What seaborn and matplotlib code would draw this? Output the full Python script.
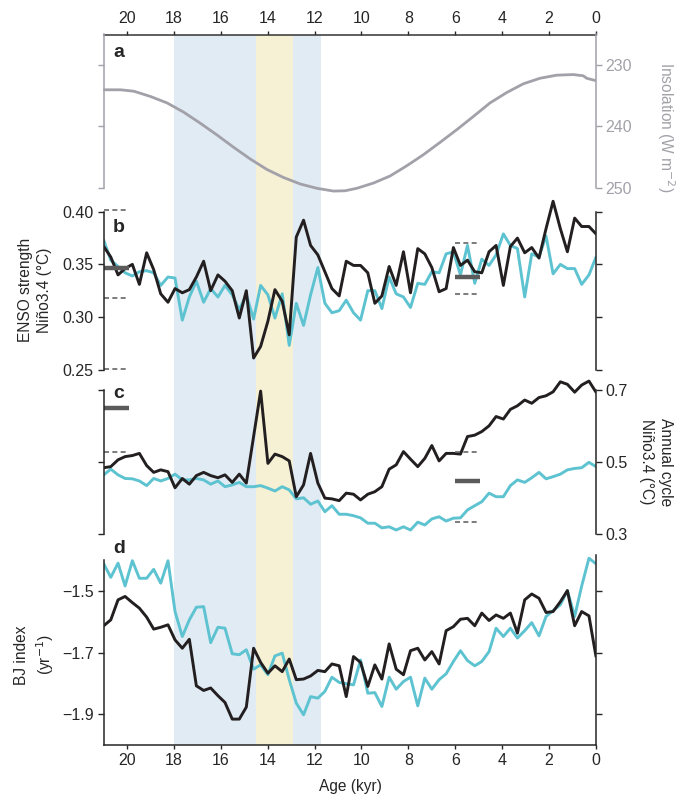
import pandas as pd
import matplotlib
matplotlib.use("Agg")
import matplotlib.pyplot as plt
import seaborn as sns

# ages of the model/proxy series (kyr BP), shared by panels b-d
age = [20.99, 20.69, 20.38, 20.08, 19.77, 19.47, 19.16, 18.86, 18.56, 18.25,
       17.95, 17.64, 17.34, 17.04, 16.73, 16.43, 16.12, 15.82, 15.51, 15.21,
       14.91, 14.60, 14.30, 13.99, 13.69, 13.38, 13.08, 12.78, 12.47, 12.17,
       11.86, 11.56, 11.26, 10.95, 10.65, 10.34, 10.04, 9.73, 9.43, 9.13,
       8.82, 8.52, 8.21, 7.91, 7.60, 7.30, 7.00, 6.69, 6.39, 6.08,
       5.78, 5.48, 5.17, 4.87, 4.56, 4.26, 3.95, 3.65, 3.35, 3.04,
       2.74, 2.43, 2.13, 1.83, 1.52, 1.22, 0.91, 0.61, 0.30, 0.00]

# panel a: insolation
ins_age = [20.96, 20.28, 19.71, 19.0, 18.29, 17.58, 16.87, 16.16, 15.45, 14.74,
           14.03, 13.32, 12.61, 11.9, 11.19, 10.7, 10.2, 9.49, 8.78, 8.07,
           7.36, 6.65, 5.94, 5.23, 4.52, 3.8, 3.1, 2.39, 1.68, 0.97,
           0.54, 0.4, 0.04]
ins_val = [234.07, 234.07, 234.3, 235.15, 236.2, 237.7, 239.5, 241.4, 243.4, 245.3,
           247.0, 248.3, 249.35, 250.05, 250.5, 250.45, 250.05, 249.2, 248.05, 246.4,
           244.6, 242.6, 240.55, 238.4, 236.2, 234.5, 233.1, 232.2, 231.7, 231.6,
           231.8, 232.2, 232.55]

# panel b: ENSO strength
enso_black = [0.367, 0.357, 0.340, 0.346, 0.350, 0.331, 0.361, 0.345, 0.322, 0.314,
              0.327, 0.323, 0.326, 0.338, 0.353, 0.325, 0.340, 0.334, 0.325, 0.299,
              0.325, 0.261, 0.272, 0.296, 0.326, 0.315, 0.283, 0.376, 0.392, 0.368,
              0.359, 0.343, 0.327, 0.320, 0.353, 0.349, 0.349, 0.342, 0.313, 0.320,
              0.348, 0.330, 0.362, 0.323, 0.365, 0.360, 0.347, 0.324, 0.327, 0.366,
              0.349, 0.354, 0.343, 0.342, 0.362, 0.368, 0.330, 0.367, 0.375, 0.361,
              0.366, 0.356, 0.384, 0.410, 0.384, 0.362, 0.394, 0.386, 0.386, 0.379]
enso_cyan = [0.373, 0.354, 0.348, 0.342, 0.339, 0.343, 0.344, 0.342, 0.330, 0.338,
             0.337, 0.297, 0.319, 0.334, 0.314, 0.327, 0.319, 0.330, 0.321, 0.307,
             0.321, 0.298, 0.330, 0.321, 0.299, 0.322, 0.273, 0.313, 0.292, 0.321,
             0.347, 0.313, 0.304, 0.306, 0.316, 0.304, 0.297, 0.325, 0.325, 0.308,
             0.338, 0.322, 0.319, 0.309, 0.332, 0.331, 0.343, 0.342, 0.360, 0.362,
             0.340, 0.368, 0.332, 0.355, 0.349, 0.359, 0.379, 0.368, 0.365, 0.319,
             0.360, 0.357, 0.377, 0.341, 0.350, 0.346, 0.346, 0.331, 0.340, 0.357]

# panel c: annual cycle
annual_black = [0.484, 0.487, 0.506, 0.515, 0.518, 0.524, 0.490, 0.471, 0.478, 0.473,
                0.428, 0.454, 0.438, 0.462, 0.471, 0.462, 0.456, 0.464, 0.443, 0.466,
                0.441, 0.571, 0.698, 0.496, 0.522, 0.515, 0.503, 0.403, 0.436, 0.524,
                0.441, 0.399, 0.397, 0.392, 0.413, 0.410, 0.394, 0.410, 0.417, 0.431,
                0.480, 0.492, 0.529, 0.508, 0.487, 0.510, 0.546, 0.503, 0.524, 0.524,
                0.522, 0.571, 0.575, 0.585, 0.601, 0.627, 0.620, 0.647, 0.657, 0.673,
                0.664, 0.680, 0.685, 0.696, 0.724, 0.717, 0.695, 0.715, 0.726, 0.695]
annual_cyan = [0.464, 0.480, 0.464, 0.454, 0.453, 0.447, 0.434, 0.454, 0.447, 0.454,
               0.466, 0.450, 0.450, 0.454, 0.450, 0.438, 0.447, 0.431, 0.436, 0.443,
               0.431, 0.431, 0.434, 0.427, 0.419, 0.431, 0.422, 0.397, 0.400, 0.382,
               0.391, 0.361, 0.378, 0.354, 0.354, 0.350, 0.344, 0.329, 0.329, 0.316,
               0.319, 0.310, 0.319, 0.310, 0.332, 0.324, 0.341, 0.347, 0.335, 0.343,
               0.344, 0.366, 0.378, 0.389, 0.413, 0.403, 0.403, 0.434, 0.450, 0.443,
               0.456, 0.471, 0.453, 0.459, 0.466, 0.478, 0.482, 0.484, 0.499, 0.487]

# panel d: BJ index
bj_black = [-1.613, -1.594, -1.529, -1.518, -1.538, -1.556, -1.585, -1.624, -1.618, -1.610,
            -1.659, -1.686, -1.657, -1.808, -1.823, -1.815, -1.840, -1.862, -1.916, -1.916,
            -1.877, -1.686, -1.732, -1.767, -1.743, -1.762, -1.721, -1.788, -1.786, -1.776,
            -1.758, -1.762, -1.737, -1.743, -1.843, -1.713, -1.732, -1.810, -1.740, -1.786,
            -1.672, -1.754, -1.772, -1.694, -1.686, -1.724, -1.697, -1.737, -1.629, -1.616,
            -1.592, -1.589, -1.613, -1.572, -1.596, -1.578, -1.589, -1.572, -1.637, -1.529,
            -1.510, -1.524, -1.570, -1.567, -1.535, -1.499, -1.613, -1.567, -1.581, -1.713]
bj_cyan = [-1.412, -1.456, -1.410, -1.484, -1.402, -1.459, -1.459, -1.430, -1.475, -1.402,
           -1.567, -1.648, -1.594, -1.553, -1.551, -1.668, -1.618, -1.621, -1.704, -1.707,
           -1.691, -1.754, -1.740, -1.772, -1.711, -1.702, -1.788, -1.864, -1.902, -1.843,
           -1.848, -1.826, -1.780, -1.797, -1.801, -1.805, -1.724, -1.832, -1.830, -1.875,
           -1.780, -1.819, -1.794, -1.780, -1.873, -1.783, -1.819, -1.788, -1.769, -1.729,
           -1.694, -1.726, -1.743, -1.729, -1.697, -1.621, -1.648, -1.621, -1.653, -1.629,
           -1.603, -1.646, -1.583, -1.564, -1.545, -1.499, -1.583, -1.484, -1.394, -1.412]

# reference markers (21 kyr on the left, 6-5 kyr in the middle)
ref_left = (20.97, 19.9)
ref_mid = (6.0, 4.95)
b_mean = [0.347, 0.338]
b_dash_left = [0.402, 0.318, 0.251]
b_dash_mid = [0.370, 0.322]
c_mean = [0.652, 0.447]
c_dash_left = [0.527]
c_dash_mid = [0.529, 0.333]

# shaded intervals (kyr)
blue_span = (17.98, 11.72)
yellow_span = (14.49, 12.91)

BLACK = "#231f20"
CYAN = "#5ec3d1"
INS_GRAY = "#a2a1a9"
BAR_GRAY = "#5b5b5b"
FS_TICK = 11.5
FS_LABEL = 11.2

sns.set_style("ticks")
plt.rcParams["font.family"] = ["Liberation Sans", "DejaVu Sans"]
plt.rcParams["font.size"] = FS_TICK
plt.rcParams["axes.linewidth"] = 1.1

W, H = 683, 798
L, R = 103.5, 596
fig = plt.figure(figsize=(W / 100, H / 100), dpi=100)


def panel(top, bottom):
    ax = fig.add_axes([L / W, 1 - bottom / H, (R - L) / W, (bottom - top) / H])
    ax.set_facecolor("none")
    for s in ax.spines.values():
        s.set_visible(False)
    ax.tick_params(bottom=False, labelbottom=False, left=False, labelleft=False,
                   direction="out", length=4, width=1.0, labelsize=FS_TICK, pad=3)
    return ax


def draw(ax, y1, y2):
    df = pd.DataFrame({"age": age, "black": y1, "cyan": y2})
    sns.lineplot(data=df, x="age", y="cyan", ax=ax, color=CYAN, lw=2.1)
    sns.lineplot(data=df, x="age", y="black", ax=ax, color=BLACK, lw=2.1)
    ax.set_xlabel("")
    ax.set_ylabel("")


# background with shading and top age axis
bg = panel(34.5, 745)
bg.axvspan(*blue_span, color="#e1ebf3", lw=0)
bg.axvspan(*yellow_span, color="#f6f1d4", lw=0)
bg.set_xlim(21, 0)
bg.set_yticks([])
bg.spines["top"].set_visible(True)
bg.spines["top"].set_color("#333333")
bg.set_xticks(range(20, -1, -2))
bg.tick_params(axis="x", top=True, labeltop=True, length=3)

# a
ax_a = panel(34.5, 188)
sns.lineplot(x=ins_age, y=ins_val, ax=ax_a, color=INS_GRAY, lw=2.0, clip_on=False)
ax_a.set_xlim(21, 0)
ax_a.set_ylim(250, 225.1)
for side in ["left", "right"]:
    ax_a.spines[side].set_visible(True)
    ax_a.spines[side].set_color(INS_GRAY)
ax_a.set_yticks([230, 240, 250])
ax_a.tick_params(axis="y", left=True, right=True, labelleft=False, labelright=True,
                 colors=INS_GRAY)

# b
ax_b = panel(198, 372)
draw(ax_b, enso_black, enso_cyan)
ax_b.set_xlim(21, 0)
ax_b.set_ylim(0.2477, 0.4131)
for side in ["left", "right"]:
    ax_b.spines[side].set_visible(True)
    ax_b.spines[side].set_bounds(0.25, 0.40)
ax_b.set_yticks([0.25, 0.30, 0.35, 0.40])
ax_b.set_yticklabels(["0.25", "0.30", "0.35", "0.40"])
ax_b.tick_params(axis="y", left=True, right=True, labelleft=True)
ax_b.hlines(b_mean[0], *ref_left, color=BAR_GRAY, lw=3.2)
ax_b.hlines(b_mean[1], *ref_mid, color=BAR_GRAY, lw=3.2)
ax_b.hlines(b_dash_left, *ref_left, color="#666666", lw=1.2, linestyles=(0, (3, 2)))
ax_b.hlines(b_dash_mid, *ref_mid, color="#666666", lw=1.2, linestyles=(0, (3, 2)))

# c
ax_c = panel(378, 540)
draw(ax_c, annual_black, annual_cyan)
ax_c.set_xlim(21, 0)
ax_c.set_ylim(0.2821, 0.7346)
for side in ["left", "right"]:
    ax_c.spines[side].set_visible(True)
    ax_c.spines[side].set_bounds(0.3, 0.7)
ax_c.set_yticks([0.3, 0.5, 0.7])
ax_c.tick_params(axis="y", left=True, right=True, labelright=True)
ax_c.hlines(c_mean[0], *ref_left, color=BAR_GRAY, lw=3.2)
ax_c.hlines(c_mean[1], *ref_mid, color=BAR_GRAY, lw=3.2)
ax_c.hlines(c_dash_left, *ref_left, color="#666666", lw=1.2, linestyles=(0, (3, 2)))
ax_c.hlines(c_dash_mid, *ref_mid, color="#666666", lw=1.2, linestyles=(0, (3, 2)))

# d
ax_d = panel(553, 745)
draw(ax_d, bj_black, bj_cyan)
ax_d.set_xlim(21, 0)
ax_d.set_ylim(-2.0, -1.377)
for side in ["left", "right", "bottom"]:
    ax_d.spines[side].set_visible(True)
ax_d.spines["left"].set_bounds(-2.0, -1.40)
ax_d.spines["right"].set_bounds(-2.0, -1.383)
ax_d.set_yticks([-1.9, -1.7, -1.5])
ax_d.set_xticks(range(20, -1, -2))
ax_d.tick_params(axis="y", left=True, right=True, labelleft=True)
ax_d.tick_params(axis="x", bottom=True, labelbottom=True, length=3)

# panel letters
for txt, yb in [("a", 57), ("b", 232), ("c", 398), ("d", 553)]:
    fig.text(113 / W, 1 - yb / H, txt, fontsize=14, fontweight="bold",
             ha="left", va="baseline")

# axis titles
fig.text(35 / W, 1 - 290 / H, "ENSO strength\nNiño3.4 (°C)", rotation=90,
         ha="center", va="center", fontsize=FS_LABEL, linespacing=1.3)
fig.text(35 / W, 1 - 655 / H, "BJ index\n(yr$^{-1}$)", rotation=90,
         ha="center", va="center", fontsize=FS_LABEL, linespacing=1.3)
fig.text(656 / W, 1 - 462 / H, "Annual cycle\nNiño3.4 (°C)", rotation=270,
         ha="center", va="center", fontsize=FS_LABEL, linespacing=1.3)
fig.text(666 / W, 1 - 127 / H, "Insolation (W m$^{-2}$)", rotation=270,
         ha="center", va="center", fontsize=FS_LABEL, color=INS_GRAY)
fig.text(350 / W, 1 - 786 / H, "Age (kyr)", ha="center", va="center", fontsize=FS_LABEL)

fig.savefig("out.png", dpi=100)
